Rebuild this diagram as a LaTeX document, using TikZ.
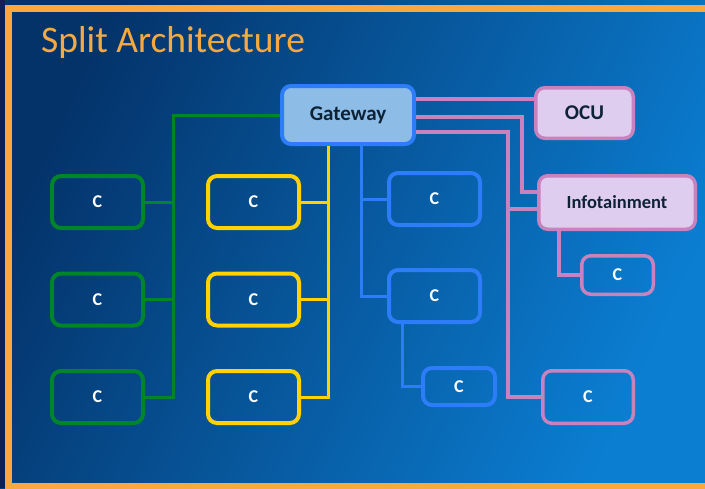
\documentclass[tikz,border=0pt]{standalone}
\usepackage{fontspec}
\setmainfont{Carlito}
\usetikzlibrary{calc}
\definecolor{bgA}{HTML}{04336A}
\definecolor{bgB}{HTML}{0B7ED2}
\definecolor{navy}{HTML}{0A2350}
\definecolor{frameor}{HTML}{F9A83E}
\definecolor{titleor}{HTML}{F7A941}
\definecolor{cgreen}{HTML}{00852A}
\definecolor{cyellow}{HTML}{FFD200}
\definecolor{cblue}{HTML}{2D7CF8}
\definecolor{cpink}{HTML}{C882BE}
\definecolor{gwfill}{HTML}{8DBDE6}
\definecolor{lavfill}{HTML}{DFCDEF}
\definecolor{darktext}{HTML}{0E2236}
\begin{document}
\begin{tikzpicture}[x=1pt,y=-1pt,
  box/.style={rounded corners=9, align=center, inner sep=0pt},
  cbox/.style={box, text=white, font=\bfseries\fontsize{18}{18}\selectfont, minimum width=91, minimum height=52, line width=4},
  gbox/.style={cbox, draw=cgreen},
  ybox/.style={cbox, draw=cyellow},
  bbox/.style={cbox, draw=cblue},
  pbox/.style={cbox, draw=cpink, line width=3.5},
  gwbox/.style={box, draw=cblue, fill=gwfill, line width=4, text=darktext, font=\bfseries\fontsize{21}{21}\selectfont},
  lavbox/.style={box, draw=cpink, fill=lavfill, line width=3.5, text=darktext, font=\bfseries\fontsize{21}{21}\selectfont},
  gline/.style={draw=cgreen, line width=3},
  yline/.style={draw=cyellow, line width=3},
  bline/.style={draw=cblue, line width=3},
  pline/.style={draw=cpink, line width=3.5},
]
\useasboundingbox (0,0) rectangle (705,488);
\clip (0,0) rectangle (705,488);
\shade[top color=bgA, bottom color=bgB, shading angle=65] (0,0) rectangle (705,488);
\fill[navy] (0,0) rectangle (5,488);
\draw[frameor, line width=7] (720,8.5) -- (8.5,8.5) -- (8.5,486.5) -- (720,486.5);

\node[anchor=base west, text=titleor, font=\fontsize{37.5}{37.5}\selectfont, inner sep=0pt] (title) at (41,52) {Split Architecture};

% main nodes
\node[gwbox, minimum width=132, minimum height=58] (gw) at (348,115) {Gateway};
\node[lavbox, minimum width=97.5, minimum height=50.5] (ocu) at (584.5,113) {OCU};
\node[lavbox, minimum width=156.5, minimum height=53.5, font=\bfseries\fontsize{18.5}{18.5}\selectfont] (info) at (617,202.5) {Infotainment};

% green column
\node[gbox] (gc1) at (97.5,202) {C};
\node[gbox] (gc2) at (97.5,299.5) {C};
\node[gbox] (gc3) at (97.5,397) {C};
% yellow column
\node[ybox] (yc1) at (253.5,202) {C};
\node[ybox] (yc2) at (253.5,299.5) {C};
\node[ybox] (yc3) at (253.5,397) {C};
% blue
\node[bbox] (bc1) at (434.5,199) {C};
\node[bbox] (bc2) at (434.5,296) {C};
\node[bbox, minimum width=72, minimum height=37] (bc3) at (459,386.5) {C};
% pink
\node[pbox, minimum width=71.5, minimum height=38.5] (pc1) at (617.5,275) {C};
\node[pbox, minimum width=90.5, minimum height=52.5] (pc2) at (588,397) {C};

% green connectors
\draw[gline] (gw.west) -| (173,0 |- gc3.east) -- (gc3.east);
\draw[gline] (gc1.east) -- (gc1.east -| 173,0);
\draw[gline] (gc2.east) -- (gc2.east -| 173,0);
% yellow connectors
\draw[yline] (gw.south -| 328,0) |- (yc3.east);
\draw[yline] (yc1.east) -- (yc1.east -| 328,0);
\draw[yline] (yc2.east) -- (yc2.east -| 328,0);
% blue connectors
\draw[bline] (gw.south -| 361,0) |- (bc2.west);
\draw[bline] (bc1.west -| 361,0) -- (bc1.west);
\draw[bline] (bc2.south -| 402,0) |- (bc3.west);
% pink connectors
\draw[pline] (gw.east |- 0,99) -- (ocu.west |- 0,99);
\draw[pline] (gw.east |- 0,117) -| (522,192) -- (info.west |- 0,192);
\draw[pline] (gw.east |- 0,132) -| (508,0 |- pc2.west) -- (pc2.west);
\draw[pline] (508,209) -- (info.west |- 0,209);
\draw[pline] (info.south -| 559,0) |- (pc1.west);
\end{tikzpicture}
\end{document}
